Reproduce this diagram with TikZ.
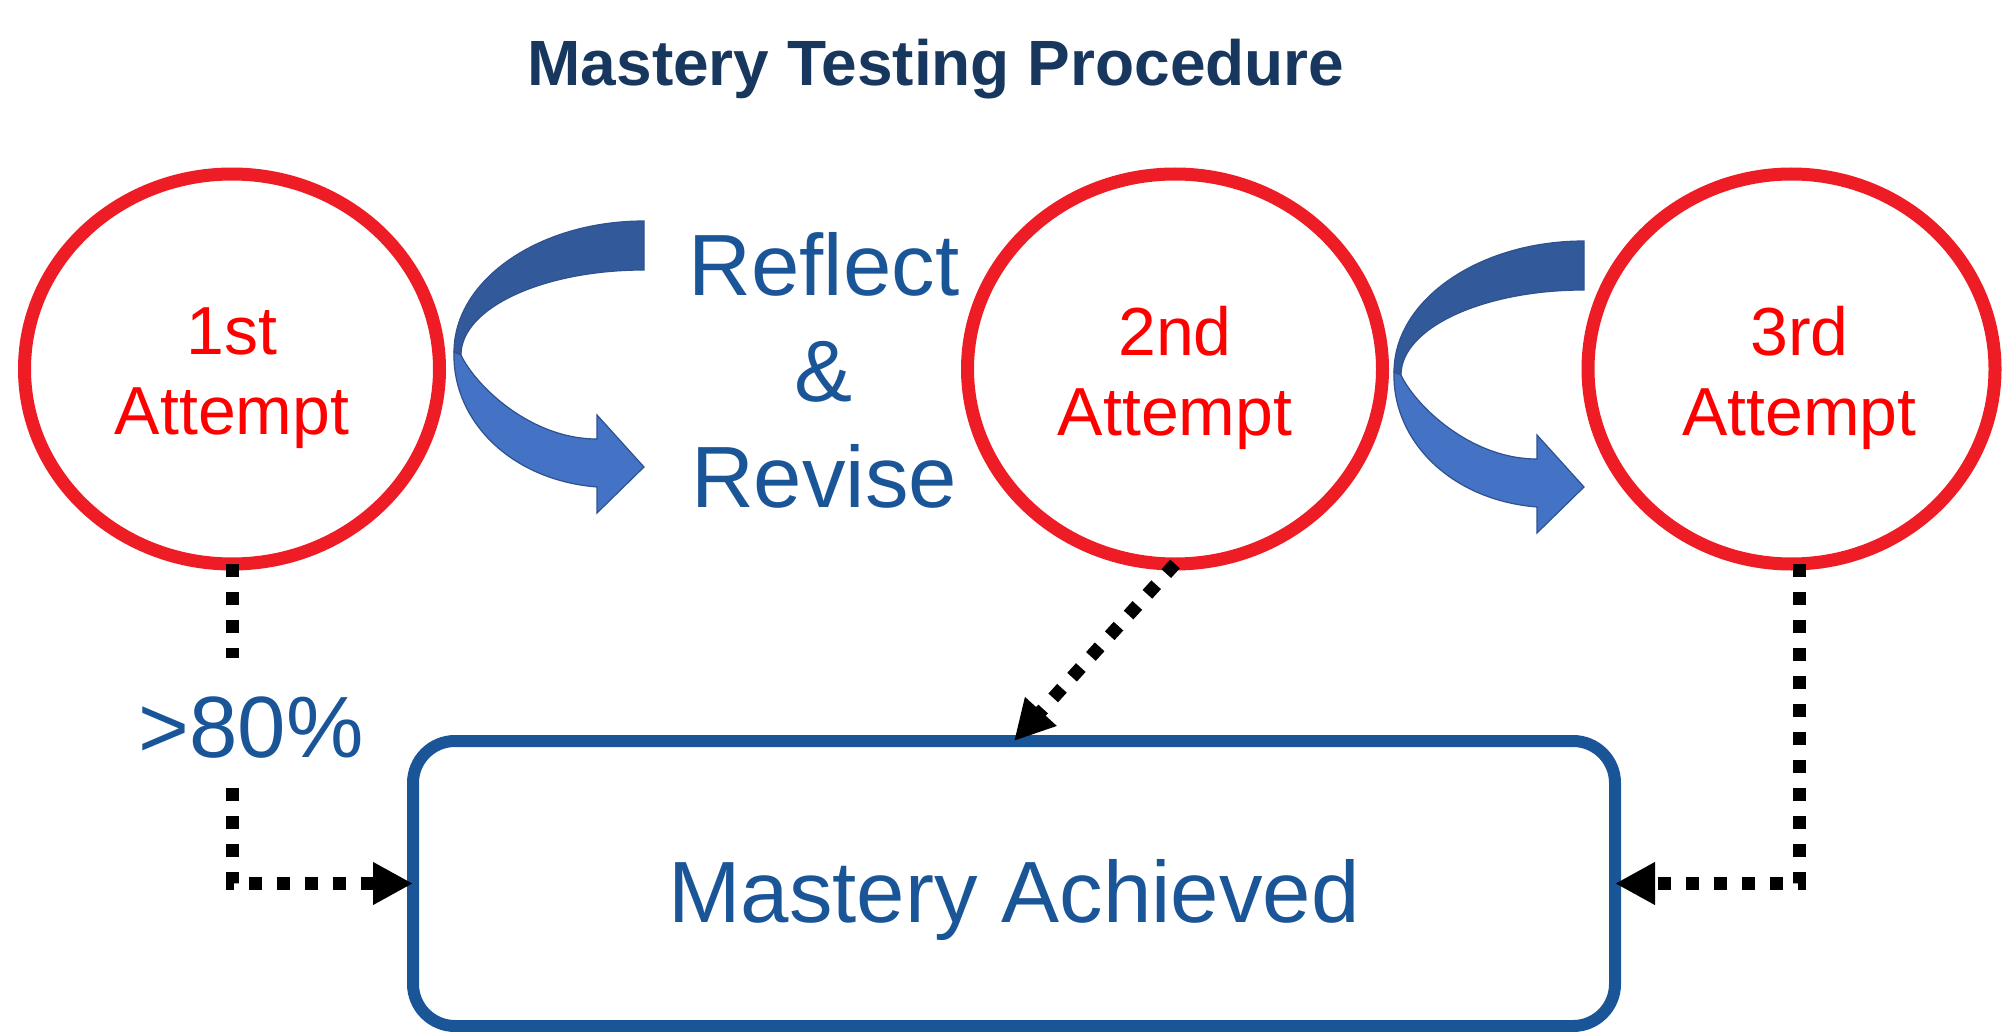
\documentclass[tikz,border=0pt]{standalone}
\usepackage{fontspec}
\setmainfont{Liberation Sans}
\usetikzlibrary{arrows.meta,shapes.geometric}
\definecolor{ringred}{HTML}{EE1C25}
\definecolor{txtred}{HTML}{FF0000}
\definecolor{pptblue}{HTML}{1A5598}
\definecolor{titleblue}{HTML}{17375E}
\definecolor{banddark}{HTML}{325A9B}
\definecolor{bandlight}{HTML}{4472C4}
\definecolor{bandline}{HTML}{2F528F}
\tikzset{
  curvarr/.pic={
    \filldraw[fill=banddark, draw=bandline, line width=0.6pt]
      (644,221) .. controls (539,221) and (454,280) .. (454,352)
      -- (461,355) .. controls (461,308) and (543,270) .. (644,270) -- cycle;
    \filldraw[fill=bandlight, draw=bandline, line width=0.6pt]
      (454,352) .. controls (452,420) and (510,480) .. (597,487)
      -- (597,513) -- (644,467) -- (597,415) -- (597,439)
      .. controls (530,439) and (475,385) .. (461,355) -- cycle;
  }
}
\begin{document}
\begin{tikzpicture}[x=0.5pt,y=-0.5pt,
  titlestyle/.style={anchor=base, text=titleblue, font=\fontsize{32}{38}\selectfont\bfseries, inner sep=0pt},
  attempt/.style={ellipse, draw=ringred, line width=6.5pt, minimum width=207.5pt, minimum height=195pt, inner sep=0pt, outer sep=0pt},
  attlabel/.style={text=txtred, font=\fontsize{34}{40}\selectfont, align=center, yshift=-4.5pt, inner sep=0pt},
  bluetext/.style={text=pptblue, font=\fontsize{43.5}{53}\selectfont, align=center, inner sep=0pt},
  masterybox/.style={draw=pptblue, line width=6pt, rounded corners=21pt, minimum width=601pt, minimum height=142.5pt, text=pptblue, font=\fontsize{43.5}{52}\selectfont, text height=38.5pt, text depth=0pt, inner sep=0pt, outer sep=0pt},
  dotarrow/.style={draw=black, line width=6.5pt, dash pattern=on 6.5pt off 7.5pt, -{Triangle[length=20pt,width=20pt]}},
  pctlabel/.style={bluetext, fill=white, text height=49.5pt, text depth=15pt}
]
\useasboundingbox (0,0) rectangle (2002,1032);

\node[titlestyle] (title) at (936,86) {Mastery Testing Procedure};

\node[attempt, label={[attlabel, name=t1]center:1st\\Attempt}] (c1) at (232,369) {};
\node[attempt, label={[attlabel, name=t2]center:2nd\\Attempt}] (c2) at (1175,369) {};
\node[attempt, minimum width=203.5pt, label={[attlabel, name=t3, xshift=4pt]center:3rd\\Attempt}] (c3) at (1791.5,369) {};

\pic at (0,0) {curvarr};
\pic at (940,20) {curvarr};

\node[bluetext] (rr) at (824,370.5) {Reflect\\\&\\Revise};

\node[masterybox] (box) at (1014,883.5) {Mastery Achieved};

\draw[dotarrow] (c1.south) |- (box.west);
\draw[dotarrow] (c2.south) -- (box.north);
\draw[dotarrow] ([xshift=4pt]c3.south) |- (box.east);

\node[pctlabel] (pct) at (251,722.5) {>80\%};
\end{tikzpicture}
\end{document}
